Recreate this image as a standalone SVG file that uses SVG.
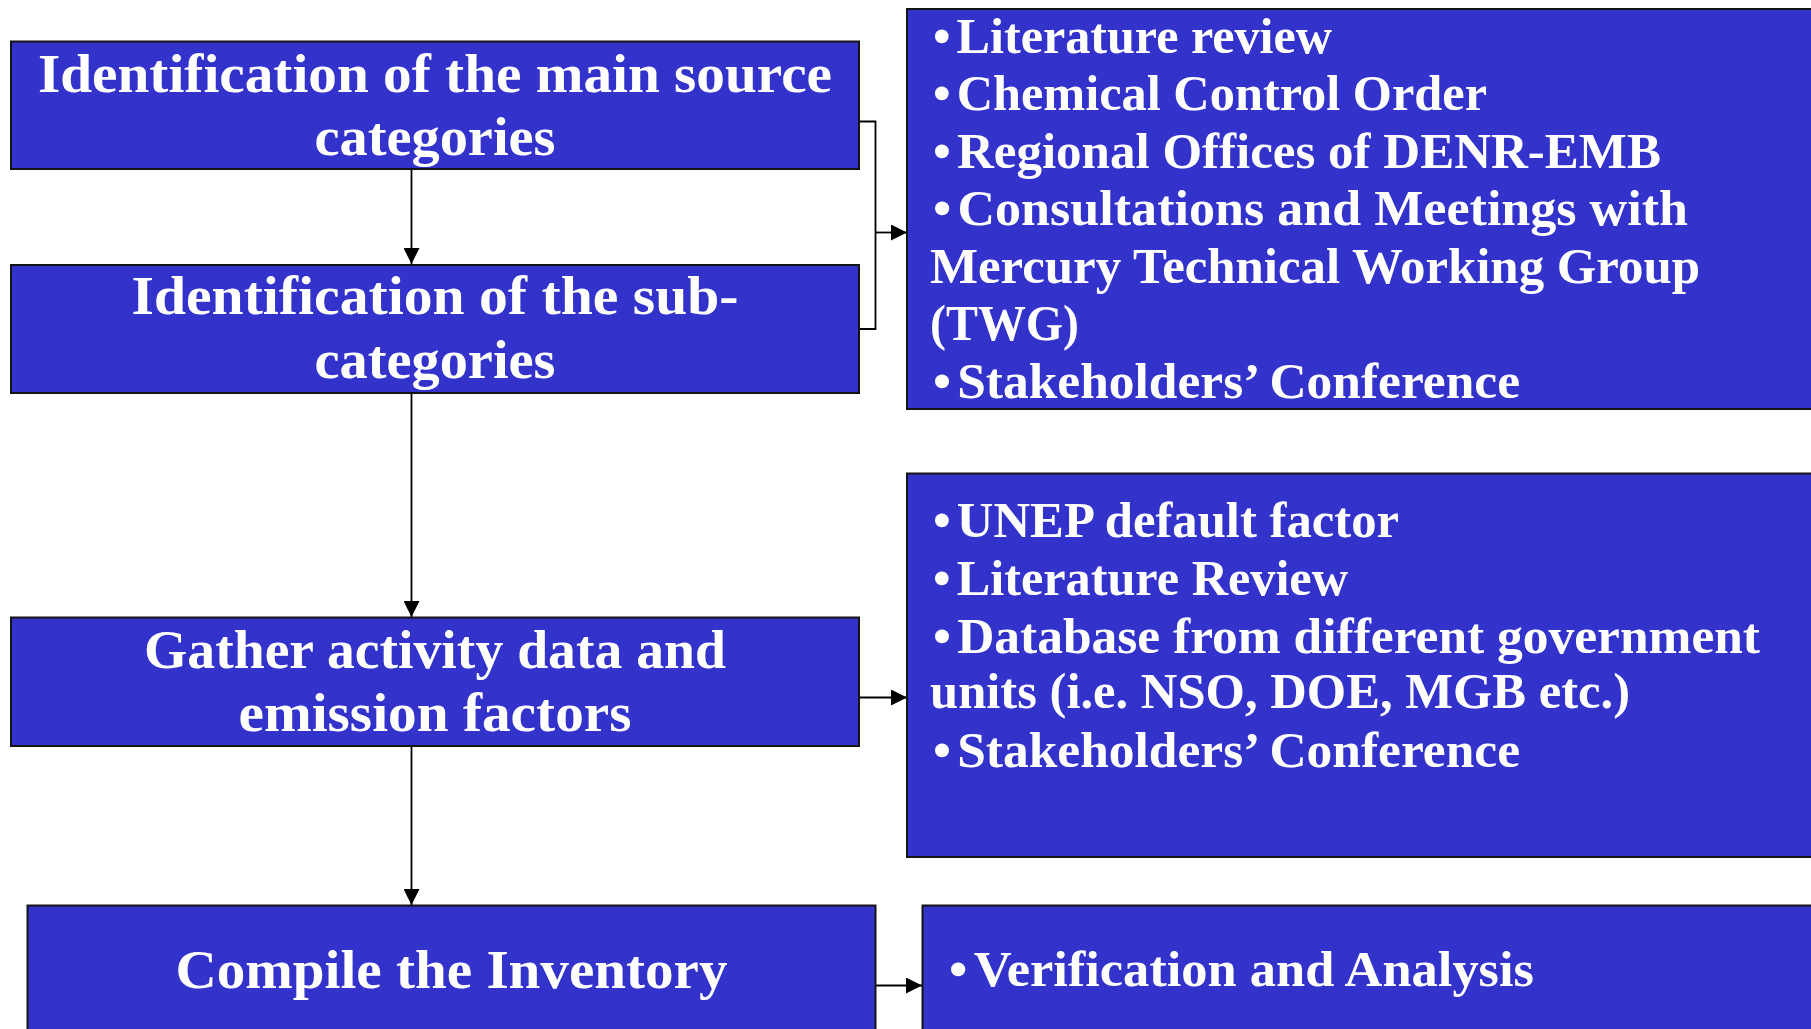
<svg xmlns="http://www.w3.org/2000/svg" width="1811" height="1029" viewBox="0 0 1811 1029">
  <style>
    .box { fill: #3333CC; stroke: #141414; stroke-width: 2; }
    .step { font-family: "Liberation Serif", "DejaVu Serif", serif; font-weight: bold; font-size: 54px; fill: #FFFFFF; text-anchor: middle; }
    .note { font-family: "Liberation Serif", "DejaVu Serif", serif; font-weight: bold; font-size: 50px; fill: #FFFFFF; }
    .link { fill: none; stroke: #000000; stroke-width: 1.8; }
  </style>
  <defs>
    <marker id="head" markerUnits="userSpaceOnUse" markerWidth="16" markerHeight="16" viewBox="0 0 16 16" refX="16" refY="8" orient="auto">
      <path d="M0,0 L16,8 L0,16 Z" fill="#000000"/>
    </marker>
  </defs>

  <!-- Connectors -->
  <g id="connectors">
    <path class="link" d="M411.5,169 V264" marker-end="url(#head)"/>
    <path class="link" d="M411.5,393 V617" marker-end="url(#head)"/>
    <path class="link" d="M411.5,746 V905" marker-end="url(#head)"/>
    <path class="link" d="M859,121.5 H875.5 V329 H859"/>
    <path class="link" d="M875.5,232.5 H907" marker-end="url(#head)"/>
    <path class="link" d="M859,697.5 H907" marker-end="url(#head)"/>
    <path class="link" d="M875.5,985.5 H922" marker-end="url(#head)"/>
  </g>

  <!-- Process steps -->
  <g id="step-main-categories">
    <rect class="box" x="11" y="41.5" width="848" height="127.5"/>
    <text class="step" x="435" y="92" textLength="794" lengthAdjust="spacingAndGlyphs">Identification of the main source</text>
    <text class="step" x="435" y="155" textLength="241" lengthAdjust="spacingAndGlyphs">categories</text>
  </g>

  <g id="step-sub-categories">
    <rect class="box" x="11" y="265" width="848" height="128"/>
    <text class="step" x="435" y="314" textLength="607" lengthAdjust="spacingAndGlyphs">Identification of the sub-</text>
    <text class="step" x="435" y="378" textLength="241" lengthAdjust="spacingAndGlyphs">categories</text>
  </g>

  <g id="step-gather-data">
    <rect class="box" x="11" y="617.5" width="848" height="128.5"/>
    <text class="step" x="435" y="668" textLength="582" lengthAdjust="spacingAndGlyphs">Gather activity data and</text>
    <text class="step" x="435" y="731" textLength="393" lengthAdjust="spacingAndGlyphs">emission factors</text>
  </g>

  <g id="step-compile">
    <rect class="box" x="27.5" y="905.5" width="848" height="140"/>
    <text class="step" x="451.5" y="988" textLength="552" lengthAdjust="spacingAndGlyphs">Compile the Inventory</text>
  </g>

  <!-- Sources / methods -->
  <g id="sources-categories">
    <rect class="box" x="907" y="9" width="930" height="400"/>
    <text class="note" x="933" y="52.5" textLength="399" lengthAdjust="spacingAndGlyphs">•<tspan dx="6">Literature review</tspan></text>
    <text class="note" x="933" y="110" textLength="554" lengthAdjust="spacingAndGlyphs">•<tspan dx="6">Chemical Control Order</tspan></text>
    <text class="note" x="933" y="167.5" textLength="728" lengthAdjust="spacingAndGlyphs">•<tspan dx="6">Regional Offices of DENR-EMB</tspan></text>
    <text class="note" x="933" y="225" textLength="755" lengthAdjust="spacingAndGlyphs">•<tspan dx="6">Consultations and Meetings with</tspan></text>
    <text class="note" x="930" y="283" textLength="770" lengthAdjust="spacingAndGlyphs">Mercury Technical Working Group</text>
    <text class="note" x="930" y="340" textLength="149" lengthAdjust="spacingAndGlyphs">(TWG)</text>
    <text class="note" x="933" y="398" textLength="587" lengthAdjust="spacingAndGlyphs">•<tspan dx="6">Stakeholders’ Conference</tspan></text>
  </g>

  <g id="sources-data">
    <rect class="box" x="907" y="473.5" width="930" height="383.5"/>
    <text class="note" x="933" y="537" textLength="466" lengthAdjust="spacingAndGlyphs">•<tspan dx="6">UNEP default factor</tspan></text>
    <text class="note" x="933" y="594.5" textLength="415" lengthAdjust="spacingAndGlyphs">•<tspan dx="6">Literature Review</tspan></text>
    <text class="note" x="933" y="652.5" textLength="827" lengthAdjust="spacingAndGlyphs">•<tspan dx="6">Database from different government</tspan></text>
    <text class="note" x="930" y="708" textLength="700" lengthAdjust="spacingAndGlyphs">units (i.e. NSO, DOE, MGB etc.)</text>
    <text class="note" x="933" y="766.5" textLength="587" lengthAdjust="spacingAndGlyphs">•<tspan dx="6">Stakeholders’ Conference</tspan></text>
  </g>

  <g id="sources-compile">
    <rect class="box" x="922.5" y="905.5" width="930" height="140"/>
    <text class="note" x="949" y="986" textLength="585" lengthAdjust="spacingAndGlyphs">•<tspan dx="6">Verification and Analysis</tspan></text>
  </g>
</svg>
